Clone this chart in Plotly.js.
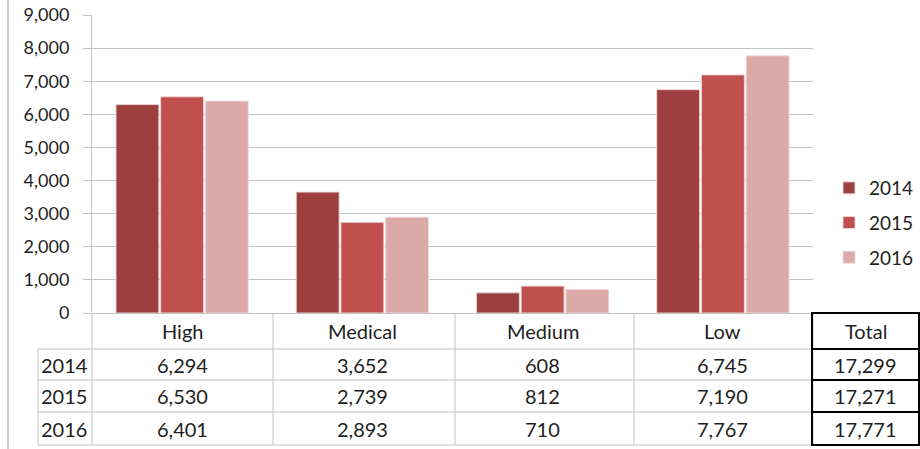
<!DOCTYPE html>
<html>
<head>
<meta charset="utf-8">
<script src="https://cdn.plot.ly/plotly-3.0.1.min.js"></script>
<style>
  html, body { margin: 0; padding: 0; background: #fff; }
  #chart { width: 920px; height: 449px; }
</style>
</head>
<body>
<div id="chart"></div>
<script>
// Categories and yearly counts
const categories = ["High", "Medical", "Medium", "Low"];
const years = ["2014", "2015", "2016"];
const values2014 = [6294, 3652, 608, 6745];
const values2015 = [6530, 2739, 812, 7190];
const values2016 = [6401, 2893, 710, 7767];
const yTicks = [0, 1000, 2000, 3000, 4000, 5000, 6000, 7000, 8000, 9000];
const totalLabel = "Total";

const series = [values2014, values2015, values2016];
const colors = ["#9C3F3E", "#C0504D", "#DAA9A8"];

const W = 920, H = 449;
const L = 92, R = 813, T = 15, B = 313;
const plotW = R - L, plotH = B - T;
// pixel -> paper helpers for the table drawn under the plot
const px = x => (x - L) / plotW;
const py = y => (B - y) / plotH;

const font = "Lato, 'Open Sans', 'DejaVu Sans', sans-serif";
const textColor = "#1e1e1e";
const gridColor = "#c4c4c4";
const tableSize = 20;

const traces = series.map((vals, i) => ({
  type: "bar",
  name: years[i],
  x: categories,
  y: vals,
  legendgroup: "g" + i,
  marker: { color: colors[i], line: { color: "rgba(235,220,220,0.9)", width: 1 } },
  hoverinfo: "skip"
}));

const rowTops = [349, 380, 412];
const rowBottoms = [380, 412, 445];
const fmt = v => v.toLocaleString("en-US");

const shapes = [];
const annotations = [];
const line = (x0, y0, x1, y1, color, width) => shapes.push({
  type: "line", xref: "paper", yref: "paper",
  x0: px(x0), y0: py(y0), x1: px(x1), y1: py(y1),
  line: { color: color, width: width }
});

// outer left frame line
line(8, 0, 8, H, "#a0a0a0", 1);

// table grid (grey)
const colEdges = [L, 273, 455, 634, R];
colEdges.forEach(x => line(x, B, x, 445, gridColor, 1));
line(38, 349, 38, 445, gridColor, 1);
[349, 380, 412, 445].forEach(y => line(38, y, R, y, gridColor, 1));

// totals box (black)
const TX0 = 812, TX1 = 919;
[313, 349, 380, 412, 445].forEach(y => line(TX0, y, TX1, y, "#000", 2));
line(TX0, 312, TX0, 446, "#000", 2);
line(TX1, 312, TX1, 446, "#000", 2);

// category header labels
categories.forEach(c => annotations.push({
  xref: "x", yref: "paper", x: c, y: py(331),
  text: c, showarrow: false, xanchor: "center", yanchor: "middle",
  font: { family: font, size: tableSize, color: textColor }
}));
annotations.push({
  xref: "paper", yref: "paper", x: px((TX0 + TX1) / 2), y: py(331),
  text: totalLabel, showarrow: false, xanchor: "center", yanchor: "middle",
  font: { family: font, size: tableSize, color: textColor }
});

// rows: year label, values, total
series.forEach((vals, r) => {
  const yc = py((rowTops[r] + rowBottoms[r]) / 2);
  annotations.push({
    xref: "paper", yref: "paper", x: px(39), y: yc,
    text: years[r], showarrow: false, xanchor: "left", yanchor: "middle",
    font: { family: font, size: tableSize, color: textColor }
  });
  vals.forEach((v, c) => annotations.push({
    xref: "x", yref: "paper", x: categories[c], y: yc,
    text: fmt(v), showarrow: false, xanchor: "center", yanchor: "middle",
    font: { family: font, size: tableSize, color: textColor }
  }));
  const total = vals.reduce((a, b) => a + b, 0);
  annotations.push({
    xref: "paper", yref: "paper", x: px((TX0 + TX1) / 2), y: yc,
    text: fmt(total), showarrow: false, xanchor: "center", yanchor: "middle",
    font: { family: font, size: tableSize, color: textColor }
  });
});

const layout = {
  width: W, height: H,
  margin: { l: L, r: W - R, t: T, b: H - B, pad: 0, autoexpand: false },
  paper_bgcolor: "#fff", plot_bgcolor: "#fff",
  barmode: "group", bargap: 0.256, bargroupgap: 0.04,
  showlegend: true,
  legend: {
    x: px(829), y: py(169), xanchor: "left", yanchor: "top",
    traceorder: "grouped", tracegroupgap: 7,
    font: { family: font, size: 19, color: textColor },
    bgcolor: "rgba(0,0,0,0)", itemwidth: 30
  },
  xaxis: {
    type: "category", showticklabels: false, showgrid: false,
    zeroline: false, showline: false, ticks: ""
  },
  yaxis: {
    range: [0, 9000], tickvals: yTicks, tickformat: ",d",
    showgrid: true, gridcolor: gridColor, gridwidth: 1,
    zeroline: true, zerolinecolor: gridColor, zerolinewidth: 1,
    showline: true, linecolor: gridColor, linewidth: 1,
    ticks: "outside", ticklen: 8, tickcolor: gridColor,
    ticklabelstandoff: 10,
    tickfont: { family: font, size: 18, color: textColor }
  },
  shapes: shapes,
  annotations: annotations
};

Plotly.newPlot("chart", traces, layout, { displayModeBar: false, staticPlot: true });
</script>
</body>
</html>
